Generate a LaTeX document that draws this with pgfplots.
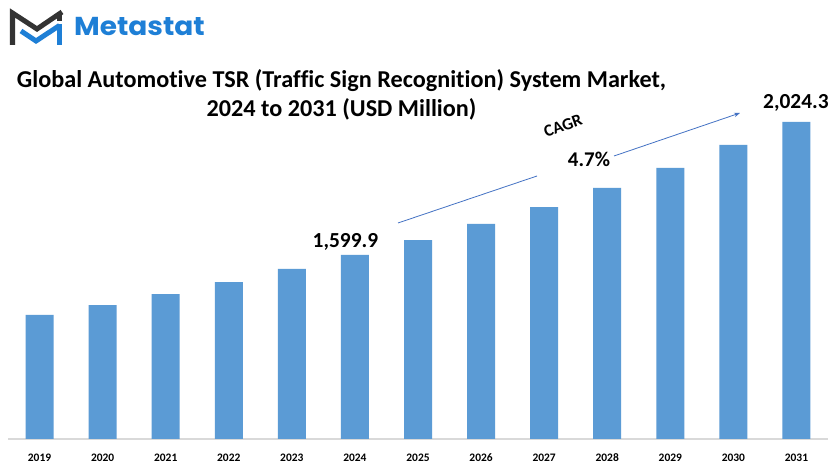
\documentclass[border=0pt]{standalone}
\usepackage{pgfplots}
\pgfplotsset{compat=1.18}
\usetikzlibrary{arrows.meta}
\usepackage{fontspec}
\setmainfont{Carlito}[Ligatures=NoCommon]
\newfontfamily\logofont{Poppins}
\definecolor{barblue}{HTML}{5B9BD5}
\definecolor{logoblue}{HTML}{1E7FD6}
\definecolor{logodark}{HTML}{333333}
\definecolor{arrowblue}{HTML}{4472C4}
\begin{document}
\begin{tikzpicture}
\path[use as bounding box, fill=white] (0,0) rectangle (835bp,467bp);
\begin{axis}[
  at={(8bp,28bp)}, anchor=south west,
  width=820bp, height=339bp, scale only axis,
  xmin=-0.5, xmax=12.5, ymin=1012.7, ymax=2094.5,
  axis x line=bottom, axis y line=none,
  x axis line style={-, draw=black!15, line width=1.2bp},
  xtick={0,1,2,3,4,5,6,7,8,9,10,11,12},
  xticklabels={2019,2020,2021,2022,2023,2024,2025,2026,2027,2028,2029,2030,2031},
  xtick style={draw=none},
  xticklabel style={font=\fontsize{11.5}{13}\selectfont\bfseries, yshift=-9bp},
  ytick=\empty,
]
\addplot[ybar, bar width=28bp, fill=barblue, draw=none] coordinates {
(0,1408.4) (1,1440.3) (2,1475.4) (3,1513.7) (4,1555.2) (5,1599.9) (6,1647.7)
(7,1698.8) (8,1753.0) (9,1813.7) (10,1877.5) (11,1950.9) (12,2024.3)};
\end{axis}
\begin{scope}[x=1bp, y=-1bp, shift={(0,467bp)}]
% logo
\draw[logodark, line width=5bp, line join=miter, miter limit=10] (12.5,45) -- (12.5,13) -- (37,29) -- (62,12);
\draw[logodark, line width=5bp] (59.5,13) -- (59.5,21);
\draw[logoblue, line width=5bp, line join=miter, miter limit=10] (21,31) -- (36,41) -- (59.5,25.5);
\draw[logoblue, line width=5bp] (59.5,24) -- (59.5,45);
\node[anchor=west, inner sep=0pt, xscale=1.08, text=logoblue, font=\logofont\fontsize{26}{30}\selectfont\bfseries] at (74,27) {Metastat};
% title
\node[align=center, font=\fontsize{24.3}{28.5}\selectfont\bfseries] at (341.5,95) {Global Automotive TSR (Traffic Sign Recognition) System Market,\\2024 to 2031 (USD Million)};
% labels
\node[font=\fontsize{21.5}{24}\selectfont\bfseries] at (345.5,241.5) {1,599.9};
\node[font=\fontsize{21.5}{24}\selectfont\bfseries] at (796,102.5) {2,024.3};
\node[rotate=20, font=\fontsize{17}{19}\selectfont\bfseries] at (563,126) {CAGR};
\node[font=\fontsize{21}{24}\selectfont\bfseries] at (589,159) {4.7\%};
\draw[arrowblue, line width=0.8bp] (398,223) -- (537,176);
\draw[arrowblue, line width=0.8bp, -{Stealth[length=6bp]}] (614,156) -- (740,113);
\end{scope}
\end{tikzpicture}
\end{document}
